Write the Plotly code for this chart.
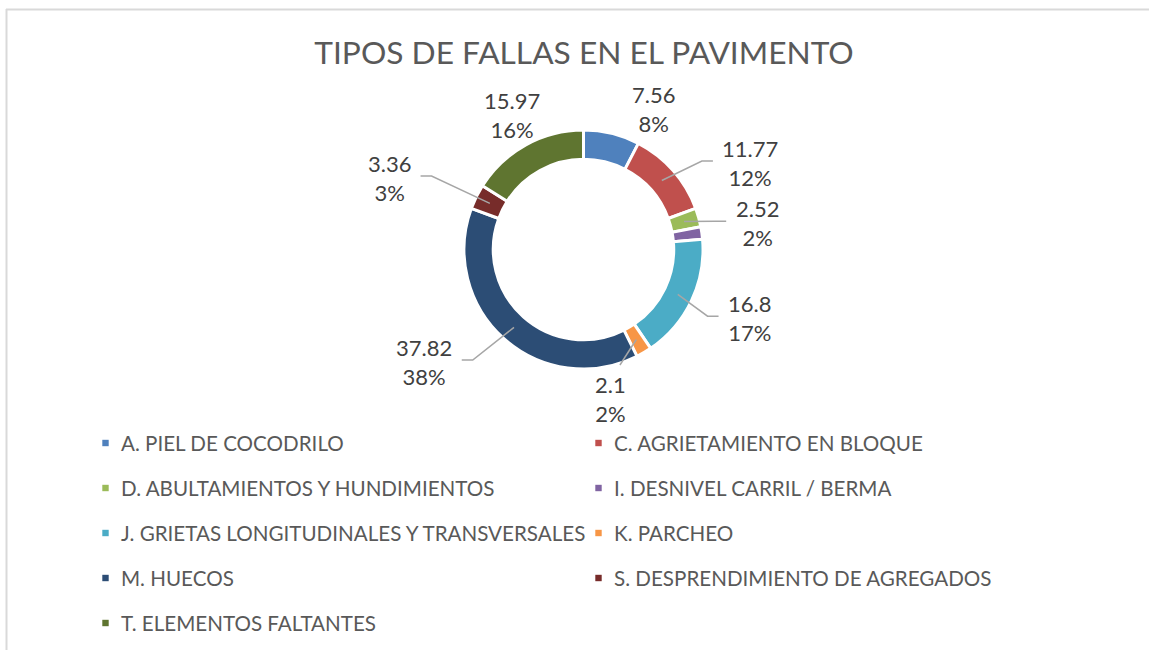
import math
import plotly.graph_objects as go

# Datos del gráfico
categorias = [
    'A. PIEL DE COCODRILO',
    'C. AGRIETAMIENTO EN BLOQUE',
    'D. ABULTAMIENTOS Y HUNDIMIENTOS',
    'I. DESNIVEL CARRIL / BERMA',
    'J. GRIETAS LONGITUDINALES Y TRANSVERSALES',
    'K. PARCHEO',
    'M. HUECOS',
    'S. DESPRENDIMIENTO DE AGREGADOS',
    'T. ELEMENTOS FALTANTES',
]
valores = [7.56, 11.77, 2.52, 1.68, 16.8, 2.1, 37.82, 3.36, 15.97]
porcentajes = ['8%', '12%', '2%', '2%', '17%', '2%', '38%', '3%', '16%']
mostrar_etiqueta = [True, True, True, False, True, True, True, True, True]

colores = ['#4F81BD', '#C0504D', '#9BBB59', '#8064A2', '#4BACC6',
           '#F79646', '#2C4D75', '#772C2A', '#5F7530']

# Estilo / ubicación de etiquetas (ángulo extra en grados, radio en px)
ajuste_etiqueta = [(13, 157), (14, 188), (7, 176), (0, 170), (-3, 180),
                   (20, 152), (13, 195), (-6, 207), (1, 152)]
linea_guia = [False, True, True, False, True, True, True, True, False]

W, H = 1149, 650
CX, CY, R = 583.5, 249.5, 119.5
HOLE = 0.755
FUENTE = 'Lato'


def px(x):
    return x / W


def py(y):
    return 1 - y / H


def texto_ancho(t, size=22):
    w = 0
    for ch in t:
        if ch.isdigit():
            w += 0.56 * size
        elif ch == '%':
            w += 0.8 * size
        else:
            w += 0.26 * size
    return w


fig = go.Figure()
fig.add_trace(go.Pie(
    labels=categorias,
    values=valores,
    sort=False,
    direction='clockwise',
    rotation=0,
    hole=HOLE,
    textinfo='none',
    marker=dict(colors=colores, line=dict(color='white', width=3)),
    domain=dict(x=[px(CX - R), px(CX + R)], y=[py(CY + R), py(CY - R)]),
    showlegend=False,
))

total = sum(valores)
acum = 0
anotaciones = []
formas = []
r_medio = (R + R * HOLE) / 2 - 0.5
for i, v in enumerate(valores):
    medio = (acum + v / 2) / total * 360
    acum += v
    if not mostrar_etiqueta[i]:
        continue
    extra, rl = ajuste_etiqueta[i]
    ang = math.radians(medio + extra)
    lx = CX + rl * math.sin(ang)
    ly = CY - rl * math.cos(ang)
    txt_val = str(valores[i])
    anotaciones.append(dict(
        x=px(lx), y=py(ly), xref='paper', yref='paper',
        text=f'{txt_val}<br>{porcentajes[i]}', showarrow=False,
        font=dict(family=FUENTE, size=22, color='#404040'),
        xanchor='center', yanchor='middle', align='center'))
    if linea_guia[i]:
        a = math.radians(medio)
        sx = CX + r_medio * math.sin(a)
        sy = CY - r_medio * math.cos(a)
        hw = max(texto_ancho(txt_val), texto_ancho(porcentajes[i])) / 2
        if abs(lx - sx) < 40:
            ex, ey = lx + 9, ly - 34
            path = f'M {px(sx)},{py(sy)} L {px(ex)},{py(ey)}'
        else:
            lado = 1 if lx > sx else -1
            ex = lx - lado * (hw + 10)
            ey = ly - 2
            bx = ex - lado * 11
            if (bx - sx) * lado < 0:
                path = f'M {px(sx)},{py(sy)} L {px(ex)},{py(ey)}'
            else:
                path = (f'M {px(sx)},{py(sy)} L {px(bx)},{py(ey)} '
                        f'L {px(ex)},{py(ey)}')
        formas.append(dict(type='path', path=path, xref='paper', yref='paper',
                           line=dict(color='#A6A6A6', width=1.5)))

# Leyenda personalizada en dos columnas
for i, nombre in enumerate(categorias):
    col, fila = i % 2, i // 2
    mx = 105.5 + col * 493
    my = 443 + fila * 45
    formas.append(dict(type='rect', xref='paper', yref='paper',
                       x0=px(mx - 3.2), x1=px(mx + 3.2),
                       y0=py(my + 3.2), y1=py(my - 3.2),
                       fillcolor=colores[i], line=dict(width=0)))
    anotaciones.append(dict(
        x=px(mx + 13), y=py(my), xref='paper', yref='paper',
        text=nombre, showarrow=False, xanchor='left', yanchor='middle',
        font=dict(family=FUENTE, size=20.6, color='#595959')))

# Borde del área del gráfico
formas.append(dict(type='line', xref='paper', yref='paper',
                   x0=px(6), x1=1, y0=py(9.5), y1=py(9.5),
                   line=dict(color='#D9D9D9', width=2)))
formas.append(dict(type='line', xref='paper', yref='paper',
                   x0=px(6.5), x1=px(6.5), y0=py(9), y1=0,
                   line=dict(color='#D9D9D9', width=2)))

fig.update_layout(
    width=W, height=H,
    margin=dict(l=0, r=0, t=0, b=0),
    paper_bgcolor='white',
    plot_bgcolor='white',
    title=dict(text='TIPOS DE FALLAS EN EL PAVIMENTO', x=px(584), y=py(53),
               xanchor='center', yanchor='middle',
               font=dict(family=FUENTE, size=31.7, color='#595959')),
    annotations=anotaciones,
    shapes=formas,
)

# quitar el margen del body para que la figura ocupe toda la ventana
fig.write_html('out.html', config={'displayModeBar': False},
               post_script="document.body.style.margin='0';")
